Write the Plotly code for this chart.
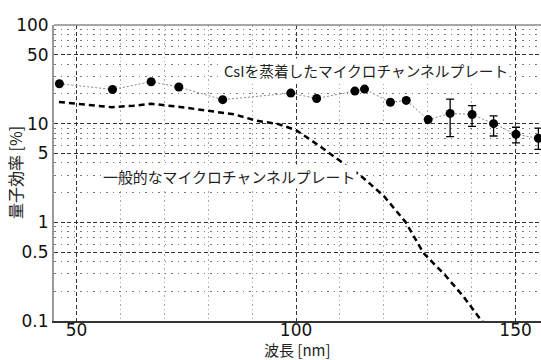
import plotly.graph_objects as go

# CsI-coated MCP measurements
csi_wavelength = [46.1, 58.2, 67.0, 73.3, 83.3, 98.8, 104.7, 113.4, 115.6, 121.5, 125.1,
                  130.1, 135.1, 140.1, 145.0, 150.1, 155.2]
csi_qe = [25.4, 22.2, 26.6, 23.5, 17.5, 20.4, 18.0, 21.4, 22.4, 16.5, 17.2,
          11.0, 12.7, 12.4, 10.0, 7.8, 7.1]
csi_err_plus = [0, 0, 0, 0, 0, 0, 0, 0, 0, 0, 0, 0, 5.0, 2.8, 2.0, 1.4, 1.9]
csi_err_minus = [0, 0, 0, 0, 0, 0, 0, 0, 0, 0, 0, 0, 5.3, 3.0, 2.5, 1.4, 1.6]

# Standard MCP curve
std_wavelength = [46, 52, 58, 63, 67, 74, 80, 86, 91, 96, 100, 105, 110, 115, 120,
                  125, 129, 134, 138, 142.3, 145]
std_qe = [16.6, 15.5, 14.7, 15.2, 15.9, 14.7, 13.6, 12.4, 10.7, 9.9, 8.6, 6.1, 4.2,
          2.9, 1.85, 1.0, 0.49, 0.29, 0.18, 0.1, 0.08]

y_ticks = [0.1, 0.5, 1, 5, 10, 50, 100]
y_tick_text = ["0.1", "0.5", "1", "5", "10", "50", "100"]
y_minor = [0.2, 0.3, 0.4, 0.6, 0.7, 0.8, 0.9, 2, 3, 4, 6, 7, 8, 9,
           20, 30, 40, 60, 70, 80, 90]
x_ticks = [50, 100, 150]
x_minor = [60, 70, 80, 90, 110, 120, 130, 140]

label_csi = "CsIを蒸着したマイクロチャンネルプレート"
label_std = "一般的なマイクロチャンネルプレート"
x_title = "波長 [nm]"
y_title = "量子効率 [%]"

fig = go.Figure()

fig.add_trace(go.Scatter(
    x=std_wavelength, y=std_qe, mode="lines",
    line=dict(color="black", width=2.5, dash="6px,4px"),
    showlegend=False,
))

fig.add_trace(go.Scatter(
    x=csi_wavelength, y=csi_qe, mode="lines+markers",
    line=dict(color="#888888", width=1, dash="2px,2px"),
    marker=dict(color="black", size=9),
    error_y=dict(type="data", symmetric=False, array=csi_err_plus,
                 arrayminus=csi_err_minus, color="black", thickness=1.3, width=4),
    showlegend=False, cliponaxis=False,
))

jp_font = "Noto Sans CJK JP"

fig.add_annotation(x=115.9, y=1.539, xref="x", yref="y", text=label_csi,
                   showarrow=False, font=dict(family=jp_font, size=14.7, color="#222222"),
                   bgcolor="white", borderpad=1)
fig.add_annotation(x=84.7, y=0.467, xref="x", yref="y", text=label_std,
                   showarrow=False, font=dict(family=jp_font, size=14.9, color="#222222"),
                   bgcolor="white", borderpad=1)

fig.add_annotation(x=0, y=0.5, xref="paper", yref="paper", xanchor="center",
                   yanchor="middle", xshift=-39, text=y_title,
                   textangle=-90, showarrow=False,
                   font=dict(family=jp_font, size=16, color="#222222"))
fig.add_annotation(x=0.499, y=0, xref="paper", yref="paper", xanchor="center",
                   yanchor="middle", yshift=-28, text=x_title,
                   showarrow=False, font=dict(family=jp_font, size=15, color="#222222"))

# top border
fig.add_shape(type="line", xref="paper", yref="paper", x0=0, x1=1, y0=1, y1=1,
              line=dict(color="#8a8a8a", width=1.5))

fig.update_xaxes(
    range=[44.87, 155.8], tickvals=x_ticks, ticktext=[str(v) for v in x_ticks],
    showgrid=True, gridcolor="#333333", griddash="4px,2.5px", gridwidth=1,
    showline=True, linecolor="#333333", linewidth=2, zeroline=False,
    ticks="", tickfont=dict(family="DejaVu Sans", size=17, color="#111111"),
    ticklabelstandoff=-7,
    automargin=False,
    minor=dict(tickvals=x_minor, showgrid=True, gridcolor="#aaaaaa",
               griddash="1.5px,3px", gridwidth=1),
)
fig.update_yaxes(
    type="log", range=[-1, 2], tickvals=y_ticks, ticktext=y_tick_text,
    showgrid=True, gridcolor="#333333", griddash="4px,2.5px", gridwidth=1,
    showline=True, linecolor="#999999", linewidth=2, zeroline=False,
    ticks="", tickfont=dict(family="DejaVu Sans", size=17, color="#111111"),
    automargin=False,
    minor=dict(tickvals=y_minor, showgrid=True, gridcolor="#777777",
               griddash="1.5px,5px", gridwidth=1),
)

fig.update_layout(
    width=541, height=360,
    margin=dict(l=54, r=0, t=25, b=39),
    plot_bgcolor="white", paper_bgcolor="white",
)

fig.write_html("out.html", config={"displayModeBar": False},
               post_script="document.body.style.margin='0';")
